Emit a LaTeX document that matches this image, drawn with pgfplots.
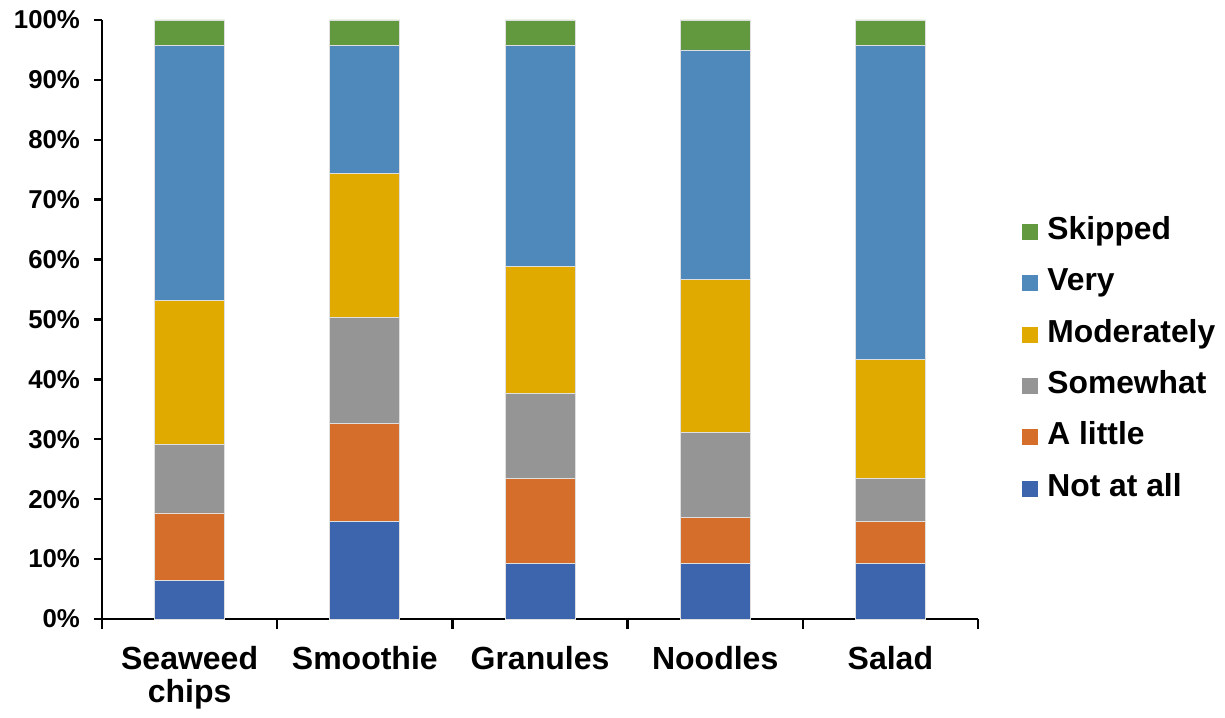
\documentclass[border=0pt]{standalone}
\usepackage{pgfplots}
\pgfplotsset{compat=1.18}
\usepackage{fontspec}
\setmainfont{Liberation Sans}

\definecolor{cNot}{RGB}{61,101,173}
\definecolor{cLittle}{RGB}{212,110,42}
\definecolor{cSome}{RGB}{149,149,149}
\definecolor{cMod}{RGB}{224,170,0}
\definecolor{cVery}{RGB}{79,137,188}
\definecolor{cSkip}{RGB}{98,153,62}

\pgfplotsset{
  sqlegend/.style={legend image code/.code={\path[##1,draw=none] (0pt,-4pt) rectangle (8pt,4pt);}},
}

\begin{document}
\begin{tikzpicture}
\path[use as bounding box] (-51pt,-49pt) rectangle (561.5pt,309.5pt);
\begin{axis}[
  scale only axis, width=438pt, height=299.5pt,
  ybar stacked, bar width=35pt,
  xmin=-0.5, xmax=4.5, ymin=0, ymax=100,
  axis x line*=bottom, axis y line*=left,
  axis line style={line width=1.3pt, black},
  xtick={0,...,4},
  xticklabels={Seaweed\\chips, Smoothie, Granules, Noodles, Salad},
  minor xtick={-0.5,0.5,...,4.5},
  major x tick style={draw=none},
  minor x tick style={black, line width=1.2pt},
  ytick={0,10,...,100},
  minor ytick={},
  major y tick style={black, line width=1.2pt},
  tick align=outside,
  major tick length=4pt, minor tick length=5pt,
  yticklabel={\pgfmathprintnumber{\tick}\%},
  /pgf/number format/assume math mode=true,
  yticklabel style={font=\bfseries\fontsize{12.9}{14}\selectfont, xshift=-3.5pt},
  xticklabel style={font=\bfseries\fontsize{16}{16.8}\selectfont, align=center, yshift=-6pt},
  every axis plot/.append style={draw=white!75!gray, line width=0.4pt},
  reverse legend,
  legend cell align=left,
  legend style={at={(1.0502,0.432)}, anchor=west, draw=none, fill=none,
    inner sep=0pt, row sep=11.2pt,
    font=\bfseries\fontsize{15.9}{18}\selectfont,
    nodes={inner sep=0pt, text height=11pt, text depth=3.5pt},
    /tikz/every odd column/.append style={column sep=4.5pt}},
  clip=false,
]
\addplot[fill=cNot, sqlegend] coordinates {(0,6.4) (1,16.3) (2,9.2) (3,9.2) (4,9.2)};
\addplot[fill=cLittle, sqlegend] coordinates {(0,11.3) (1,16.3) (2,14.2) (3,7.8) (4,7.1)};
\addplot[fill=cSome, sqlegend] coordinates {(0,11.4) (1,17.7) (2,14.2) (3,14.2) (4,7.1)};
\addplot[fill=cMod, sqlegend] coordinates {(0,24.1) (1,24.1) (2,21.2) (3,25.5) (4,19.9)};
\addplot[fill=cVery, sqlegend] coordinates {(0,42.6) (1,21.4) (2,37.0) (3,38.3) (4,52.5)};
\addplot[fill=cSkip, sqlegend] coordinates {(0,4.2) (1,4.2) (2,4.2) (3,5.0) (4,4.2)};
\legend{Not at all, A little, Somewhat, Moderately, Very, Skipped}
\end{axis}
\end{tikzpicture}
\end{document}
